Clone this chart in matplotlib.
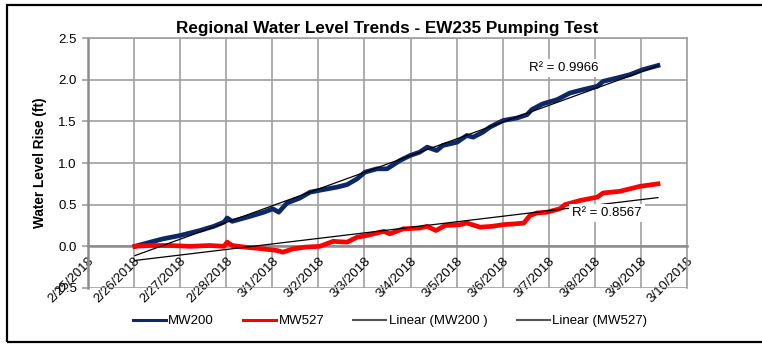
import matplotlib
matplotlib.use('Agg')
import matplotlib.pyplot as plt
import matplotlib.dates as mdates
from matplotlib.lines import Line2D
from matplotlib.patches import Rectangle
from matplotlib.ticker import FuncFormatter, MultipleLocator
from datetime import datetime, timedelta
import numpy as np

plt.rcParams['font.family'] = ['Liberation Sans', 'DejaVu Sans']

start = datetime(2018, 2, 25)

# water level rise (ft) against days since 2/25/2018
mw200_day = [1.02, 1.35, 1.63, 2.00, 2.43, 2.73, 2.95, 3.02, 3.13, 3.52,
             3.82, 4.01, 4.14, 4.32, 4.60, 4.82, 5.10, 5.40, 5.62, 5.84,
             6.01, 6.27, 6.49, 6.77, 6.99, 7.20, 7.36, 7.57, 7.70, 8.01,
             8.22, 8.36, 8.57, 8.72, 9.01, 9.31, 9.53, 9.63, 9.87, 10.18,
             10.46, 10.74, 11.05, 11.18, 11.48, 11.76, 12.04, 12.37]
mw200_rise = [0.00, 0.05, 0.09, 0.13, 0.19, 0.24, 0.29, 0.34, 0.30, 0.36,
              0.41, 0.45, 0.41, 0.52, 0.58, 0.65, 0.68, 0.71, 0.74, 0.81,
              0.89, 0.93, 0.93, 1.03, 1.09, 1.13, 1.19, 1.15, 1.21, 1.25,
              1.33, 1.31, 1.37, 1.43, 1.51, 1.54, 1.58, 1.64, 1.71, 1.76,
              1.84, 1.88, 1.92, 1.98, 2.02, 2.06, 2.12, 2.17]

mw527_day = [1.02, 1.35, 1.78, 2.21, 2.65, 2.95, 3.02, 3.13, 3.41, 3.80,
             4.10, 4.23, 4.45, 4.71, 5.03, 5.32, 5.62, 5.84, 6.05, 6.27,
             6.42, 6.55, 6.84, 7.20, 7.36, 7.55, 7.75, 8.07, 8.22, 8.51,
             8.77, 9.01, 9.27, 9.46, 9.59, 9.74, 9.96, 10.24, 10.35, 10.68,
             11.05, 11.18, 11.54, 11.98, 12.37]
mw527_rise = [0.00, 0.01, 0.01, 0.00, 0.01, 0.00, 0.05, 0.01, -0.01, -0.03,
              -0.05, -0.07, -0.03, -0.01, 0.00, 0.06, 0.05, 0.11, 0.13, 0.16,
              0.18, 0.15, 0.21, 0.22, 0.24, 0.19, 0.25, 0.26, 0.28, 0.23,
              0.24, 0.26, 0.27, 0.28, 0.37, 0.40, 0.41, 0.45, 0.50, 0.55,
              0.59, 0.64, 0.66, 0.72, 0.75]

r2_labels = ['R² = 0.9966', 'R² = 0.8567']

t200 = mdates.date2num([start + timedelta(days=d) for d in mw200_day])
t527 = mdates.date2num([start + timedelta(days=d) for d in mw527_day])

W, H = 762, 344
fig = plt.figure(figsize=(W / 100, H / 100), dpi=100, facecolor='white')
ax = fig.add_axes([88 / W, 1 - 288 / H, (687 - 88) / W, (288 - 38) / H])

navy = '#0c2866'
grid_c = '#a0a0a0'

ax.plot(t200, mw200_rise, color=navy, lw=3.4, solid_joinstyle='round', zorder=3)
ax.plot(t527, mw527_rise, color='#ff0000', lw=3.4, solid_joinstyle='round', zorder=3)

# least-squares trend lines over each record
for t, v in [(t200, mw200_rise), (t527, mw527_rise)]:
    k, b = np.polyfit(t, v, 1)
    ax.plot([t[0], t[-1]], [k * t[0] + b, k * t[-1] + b], color='black', lw=0.9, zorder=4)

x0 = mdates.date2num(start)
ax.set_xlim(x0, x0 + 13)
ax.set_ylim(-0.5, 2.5)
ax.yaxis.set_major_locator(MultipleLocator(0.5))
ax.yaxis.set_major_formatter(FuncFormatter(lambda v, p: f'{v:.1f}'))
ax.xaxis.set_major_locator(mdates.DayLocator())

def day_fmt(v, p):
    d = mdates.num2date(v)
    return f'{d.month}/{d.day}/{d.year}'

ax.xaxis.set_major_formatter(FuncFormatter(day_fmt))

ax.grid(True, color=grid_c, lw=1.2, zorder=0)
ax.set_axisbelow(True)
ax.spines['bottom'].set_position(('data', 0))
for s in ['left', 'bottom']:
    ax.spines[s].set_color('#8c8c8c')
    ax.spines[s].set_linewidth(1.8)
for s in ['top', 'right']:
    ax.spines[s].set_color(grid_c)
    ax.spines[s].set_linewidth(1.2)

ax.tick_params(axis='y', length=4, width=1.2, color=grid_c, labelsize=9.5, pad=4)
ax.tick_params(axis='x', length=0, labelsize=9.5, pad=6)
plt.setp(ax.get_xticklabels(), rotation=45, ha='right', va='top', rotation_mode='anchor')

box = dict(boxstyle='square,pad=0.25', facecolor='white', edgecolor='none')
ax.annotate(r2_labels[0], xy=(564 / W, 1 - 68 / H), xycoords='figure fraction',
            ha='center', va='center', fontsize=9.5, bbox=box, zorder=6)
ax.annotate(r2_labels[1], xy=(607 / W, 1 - 213 / H), xycoords='figure fraction',
            ha='center', va='center', fontsize=9.5, bbox=box, zorder=6)

fig.text(387.5 / W, 1 - 28 / H, 'Regional Water Level Trends - EW235 Pumping Test',
         ha='center', va='center', fontsize=12.3, fontweight='bold')
fig.text(40 / W, 1 - 163 / H, 'Water Level Rise (ft)', rotation=90,
         ha='center', va='center', fontsize=9.8, fontweight='bold')

handles = [Line2D([], [], color=navy, lw=2.2),
           Line2D([], [], color='#ff0000', lw=2.2),
           Line2D([], [], color='#555555', lw=1.5),
           Line2D([], [], color='#555555', lw=1.5)]
labels = ['MW200', 'MW527', 'Linear (MW200 )', 'Linear (MW527)']
fig.legend(handles, labels, loc='center', bbox_to_anchor=(390 / W, 1 - 321 / H),
           ncol=4, frameon=False, fontsize=9.5, handlelength=2.5,
           handletextpad=0.2, columnspacing=2.2)

# outer chart border
fig.patches.append(Rectangle((7 / W, 2 / H), 1.2, 1 - 7 / H, transform=fig.transFigure,
                             fill=False, edgecolor='black', lw=1.6, zorder=10))

fig.savefig('out.png', dpi=100, facecolor='white')
